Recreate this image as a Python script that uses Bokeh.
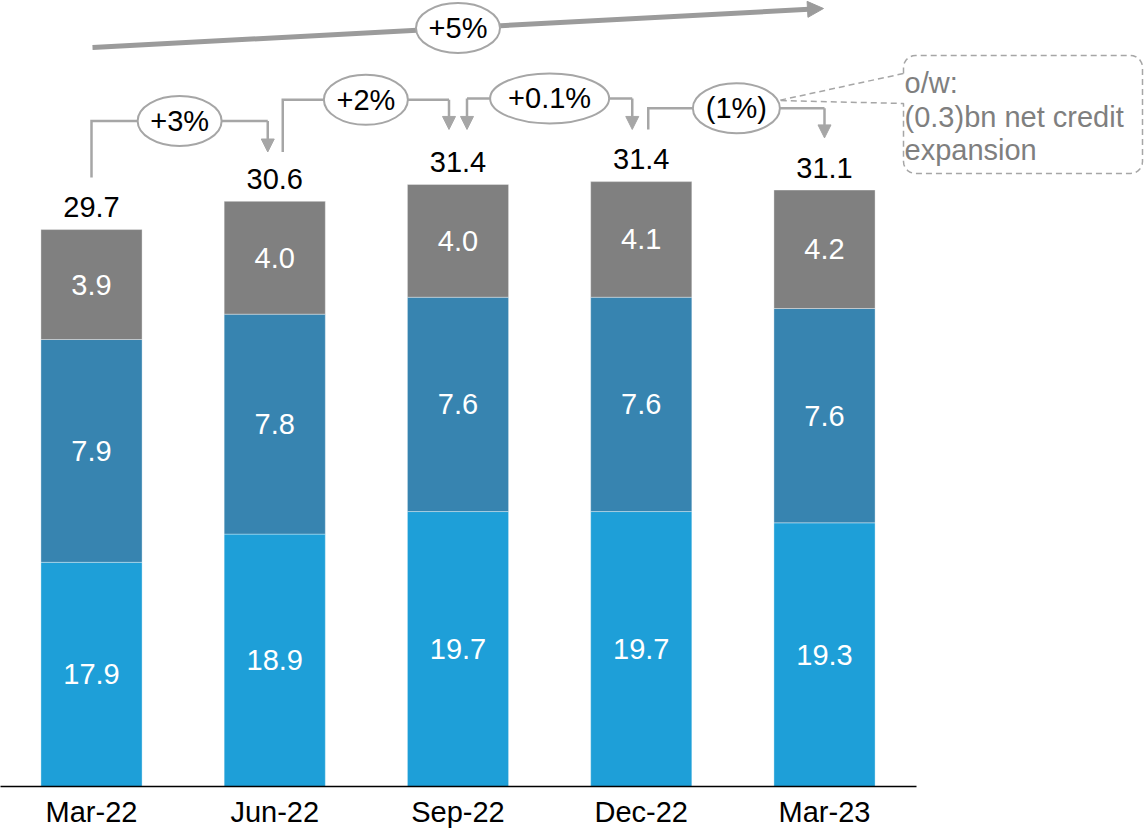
import numpy as np
from bokeh.plotting import figure
from bokeh.models import ColumnDataSource, Range1d, FixedTicker, Arrow, NormalHead
from bokeh.core.properties import value
from bokeh.embed import file_html
from bokeh.resources import INLINE

# ---------------- data ----------------
categories = ["Mar-22", "Jun-22", "Sep-22", "Dec-22", "Mar-23"]
seg_bottom = [17.9, 18.9, 19.7, 19.7, 19.3]
seg_middle = [7.9, 7.8, 7.6, 7.6, 7.6]
seg_top = [3.9, 4.0, 4.0, 4.1, 4.2]
totals = [29.7, 30.6, 31.4, 31.4, 31.1]
step_labels = ["+3%", "+2%", "+0.1%", "(1%)"]
trend_label = "+5%"
callout_lines = ["o/w:", "(0.3)bn net credit", "expansion"]

# ---------------- layout / style ----------------
FONT = value("Liberation Sans")
FS = "29px"
C_BOTTOM, C_MIDDLE, C_TOP = "#1E9FD8", "#3784B0", "#808080"
GRAY = "#A6A6A6"
TREND_GRAY = "#9B9B9B"

FRAME_W, FRAME_H = 1146, 786
PX_PER_CAT = 183.25          # pixels between bar centres
PX_PER_UNIT = 28.2           # pixels per value unit
AXIS_START = 9.95            # value axis is cut (broken) here
FIRST_PX = 91                # first bar centre, px from frame left
X_START = -FIRST_PX / PX_PER_CAT
BAR_W = 0.552

def page_x(px):
    return (px - FIRST_PX) / PX_PER_CAT

def page_y(py):
    return AXIS_START + (FRAME_H - py) / PX_PER_UNIT

p = figure(frame_width=FRAME_W, frame_height=FRAME_H,
           x_range=Range1d(X_START, X_START + FRAME_W / PX_PER_CAT),
           y_range=Range1d(AXIS_START, AXIS_START + FRAME_H / PX_PER_UNIT),
           output_backend="svg", toolbar_location=None, y_axis_location=None,
           min_border=0, outline_line_color=None,
           background_fill_color="white", border_fill_color="white")
p.xgrid.grid_line_color = None
p.ygrid.grid_line_color = None

# ---------------- bars ----------------
xs = list(range(len(categories)))
src = ColumnDataSource(dict(x=xs, bottom=seg_bottom, middle=seg_middle, top=seg_top))
p.vbar_stack(["bottom", "middle", "top"], x="x", width=BAR_W, source=src,
             fill_color=[C_BOTTOM, C_MIDDLE, C_TOP], line_color="white",
             line_alpha=0.35, line_width=1)

# segment labels (centred in visible part)
lx, ly, lt = [], [], []
for i in xs:
    b, m, t = seg_bottom[i], seg_middle[i], seg_top[i]
    for lo, hi, v in [(max(AXIS_START, 0), b, b), (b, b + m, m), (b + m, b + m + t, t)]:
        lx.append(i); ly.append((lo + hi) / 2); lt.append(f"{v:.1f}")
p.text(x=lx, y=ly, text=lt, text_align="center", text_baseline="middle",
       text_color="white", text_font=FONT, text_font_size=FS)

# totals above bars
tops = [seg_bottom[i] + seg_middle[i] + seg_top[i] for i in xs]
p.text(x=xs, y=[t + 22.5 / PX_PER_UNIT for t in tops], text=[f"{v:.1f}" for v in totals],
       text_align="center", text_baseline="middle", text_color="black",
       text_font=FONT, text_font_size=FS)

# ---------------- step brackets ----------------
BR_LIFT = [2.95, 2.9, 2.95, 2.6]
BR_END_LIFT = 1.85
BR_LEFT_PX = [0, 8, 9, 7]
BR_RIGHT_PX = [-7, -9, -9, 0]
BR_LEFT_ARROW = [False, False, True, False]
ELL_W = [84, 84, 119, 87]
ELL_H = 50

def head(size, color):
    return NormalHead(size=size, fill_color=color, line_color=color, line_width=1)

mx, my, ex, ey = [], [], [], []
for i in range(len(step_labels)):
    xl = i + BR_LEFT_PX[i] / PX_PER_CAT
    xr = i + 1 + BR_RIGHT_PX[i] / PX_PER_CAT
    level = max(totals[i], totals[i + 1]) + BR_LIFT[i]
    yl = totals[i] + BR_END_LIFT
    yr = totals[i + 1] + BR_END_LIFT
    if BR_LEFT_ARROW[i]:
        mx.append([xl, xr]); my.append([level, level])
        p.add_layout(Arrow(end=head(13, GRAY), x_start=xl, y_start=level, x_end=xl, y_end=yl,
                           line_color=GRAY, line_width=2.5))
    else:
        mx.append([xl, xl, xr]); my.append([yl, level, level])
    p.add_layout(Arrow(end=head(13, GRAY), x_start=xr, y_start=level, x_end=xr, y_end=yr,
                       line_color=GRAY, line_width=2.5))
    ex.append((xl + xr) / 2); ey.append(level)

p.multi_line(xs=mx, ys=my, line_color=GRAY, line_width=2.5, line_join="miter")

# ---------------- callout for (1%) ----------------
def callout(l, r, t, b, rad, tip, base_top, base_bot):
    pts = [(l, base_top), (l, t + rad)]
    def arc(cx, cy, a0, a1):
        for a in np.linspace(np.radians(a0), np.radians(a1), 8):
            pts.append((cx + rad * np.cos(a), cy - rad * np.sin(a)))
    arc(l + rad, t + rad, 180, 90)
    pts.append((r - rad, t)); arc(r - rad, t + rad, 90, 0)
    pts.append((r, b - rad)); arc(r - rad, b - rad, 0, -90)
    pts.append((l + rad, b)); arc(l + rad, b - rad, -90, -180)
    pts.append((l, base_bot)); pts.append(tip); pts.append((l, base_top))
    return [page_x(a) for a, _ in pts], [page_y(c) for _, c in pts]

cxs, cys = callout(903, 1142, 55, 173, 12, (778, 100), 73, 103)
p.patch(cxs, cys, fill_color=None, line_color=GRAY, line_dash="6 4", line_width=1.5)
p.text(x=[page_x(904)] * 3, y=[page_y(82), page_y(116), page_y(149)], text=callout_lines,
       text_align="left", text_baseline="middle", text_color="#7F7F7F",
       text_font=FONT, text_font_size=FS)

# ---------------- overall trend arrow ----------------
TREND_Y = [page_y(47), page_y(8)]
tx0, tx1 = 0 + 1 / PX_PER_CAT, len(categories) - 1 - 1 / PX_PER_CAT
slope = (TREND_Y[1] - TREND_Y[0]) / (tx1 - tx0)
p.line([tx0, tx1 - 10 / PX_PER_CAT], [TREND_Y[0], TREND_Y[1] - slope * 10 / PX_PER_CAT],
       line_color=TREND_GRAY, line_width=5)
p.add_layout(Arrow(end=head(16, TREND_GRAY),
                   x_start=tx1 - 12 / PX_PER_CAT, y_start=TREND_Y[1] - slope * 12 / PX_PER_CAT,
                   x_end=tx1, y_end=TREND_Y[1], line_color=TREND_GRAY, line_width=5))
trend_x = 2
trend_y = TREND_Y[0] + slope * (trend_x - tx0)

# ellipses + labels
all_ex = ex + [trend_x]
all_ey = ey + [trend_y]
all_w = ELL_W + [84]
p.ellipse(x=all_ex, y=all_ey, width=all_w, height=ELL_H, width_units="screen",
          height_units="screen", fill_color="white", line_color=GRAY, line_width=2)
p.text(x=all_ex, y=all_ey, text=step_labels + [trend_label], text_align="center",
       text_baseline="middle", text_color="black", text_font=FONT, text_font_size=FS)

# ---------------- x axis ----------------
ax = p.xaxis[0]
ax.ticker = FixedTicker(ticks=xs)
ax.major_label_overrides = {i: c for i, c in enumerate(categories)}
ax.major_tick_line_color = None
ax.minor_tick_line_color = None
ax.major_tick_out = 0
ax.major_tick_in = 0
ax.major_label_standoff = 9
ax.major_label_text_font = "Liberation Sans"
ax.major_label_text_font_size = FS
ax.major_label_text_color = "black"
ax.axis_line_color = "black"
ax.axis_line_width = 1.5
ax.bounds = (X_START, page_x(916))

open("out.html", "w").write(file_html(p, INLINE))
